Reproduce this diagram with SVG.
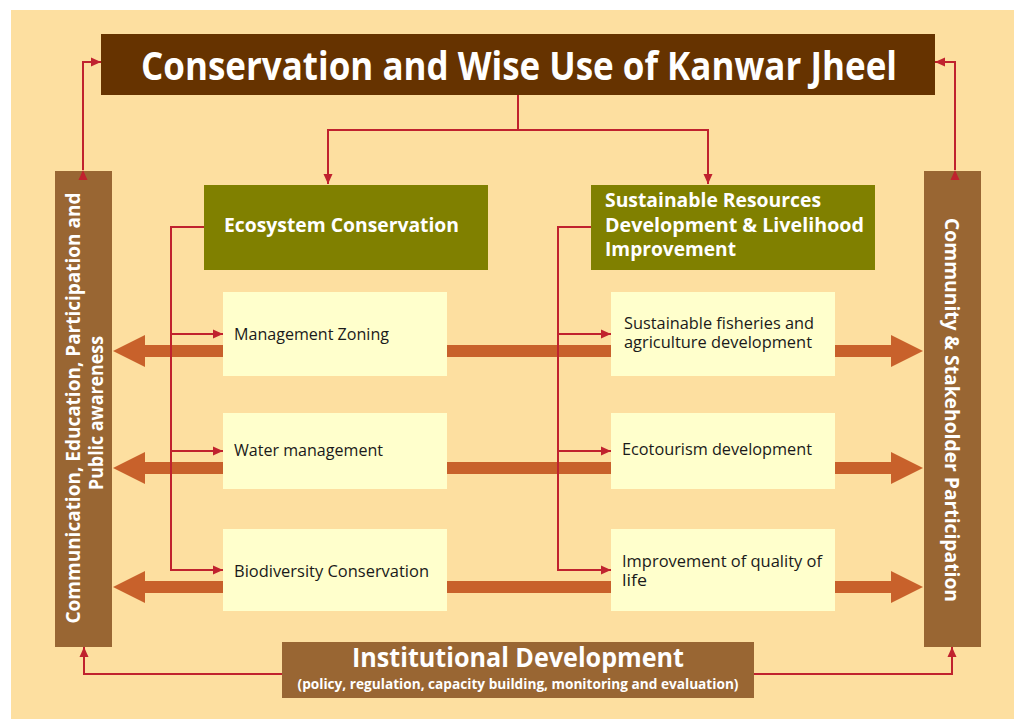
<svg xmlns="http://www.w3.org/2000/svg" width="1014" height="719" viewBox="0 0 1014 719">
  <defs>
    <style>
      .bold { font-family: "Open Sans", "Noto Sans", "DejaVu Sans", sans-serif; font-weight: 700; fill: #ffffff; }
      .item { font-family: "Open Sans", "Noto Sans", "DejaVu Sans", sans-serif; font-weight: 400; fill: #1a1a1a; font-size: 16.5px; }
      .goal { fill: #663300; }
      .pillar { fill: #808000; }
      .side { fill: #996633; }
      .action { fill: #ffffcc; }
      .link { fill: none; stroke: #c0222e; stroke-width: 2; }
      .flow { fill: #c8612b; }
    </style>
    <marker id="tip" viewBox="0 0 10 10" refX="10" refY="5" markerWidth="10" markerHeight="10" markerUnits="userSpaceOnUse" orient="auto">
      <path d="M0,0.5 L10,5 L0,9.5 Z" fill="#c0222e"/>
    </marker>
  </defs>

  <!-- page background -->
  <rect x="0" y="0" width="1014" height="719" fill="#ffffff"/>
  <rect x="11" y="10" width="1003" height="709" fill="#fddfa0"/>

  <!-- broad two-way flows between the action rows and the side pillars -->
  <g id="flows">
    <g id="flow-row1">
      <rect class="flow" x="144" y="345" width="748" height="12"/>
      <polygon class="flow" points="113,351 145,335 145,367"/>
      <polygon class="flow" points="923,351 891,335 891,367"/>
    </g>
    <g id="flow-row2">
      <rect class="flow" x="144" y="462" width="748" height="12"/>
      <polygon class="flow" points="113,468 145,452 145,484"/>
      <polygon class="flow" points="923,468 891,452 891,484"/>
    </g>
    <g id="flow-row3">
      <rect class="flow" x="144" y="581" width="748" height="12"/>
      <polygon class="flow" points="113,587 145,571 145,603"/>
      <polygon class="flow" points="923,587 891,571 891,603"/>
    </g>
  </g>

  <!-- goal -->
  <g id="goal">
    <rect class="goal" x="101" y="34" width="834" height="61"/>
    <text class="bold" x="141" y="80" font-size="39" textLength="756" lengthAdjust="spacingAndGlyphs">Conservation and Wise Use of Kanwar Jheel</text>
  </g>

  <!-- pillars -->
  <g id="ecosystem">
    <rect class="pillar" x="204" y="185" width="284" height="85"/>
    <text class="bold" x="224" y="232" font-size="19.5" textLength="235" lengthAdjust="spacingAndGlyphs">Ecosystem Conservation</text>
  </g>
  <g id="livelihood">
    <rect class="pillar" x="591" y="185" width="284" height="85"/>
    <text class="bold" font-size="19.5">
      <tspan x="605" y="207" textLength="216" lengthAdjust="spacingAndGlyphs">Sustainable Resources</tspan>
      <tspan x="605" y="232" textLength="259" lengthAdjust="spacingAndGlyphs">Development &amp; Livelihood</tspan>
      <tspan x="605" y="256" textLength="131" lengthAdjust="spacingAndGlyphs">Improvement</tspan>
    </text>
  </g>

  <!-- side pillars -->
  <g id="communication">
    <rect class="side" x="55" y="171" width="57" height="476"/>
    <g transform="translate(0,408) rotate(-90)">
      <text class="bold" x="0" y="80" font-size="20" text-anchor="middle" textLength="431" lengthAdjust="spacingAndGlyphs">Communication, Education, Participation and</text>
      <text class="bold" x="-5" y="103" font-size="20" text-anchor="middle" textLength="154" lengthAdjust="spacingAndGlyphs">Public awareness</text>
    </g>
  </g>
  <g id="community">
    <rect class="side" x="924" y="171" width="57" height="476"/>
    <g transform="translate(945,410) rotate(90)">
      <text class="bold" x="0" y="0" font-size="20" text-anchor="middle" textLength="384" lengthAdjust="spacingAndGlyphs">Community &amp; Stakeholder Participation</text>
    </g>
  </g>

  <!-- ecosystem actions -->
  <g id="zoning">
    <rect class="action" x="223" y="292" width="224" height="84"/>
    <text class="item" x="234" y="340" textLength="155" lengthAdjust="spacingAndGlyphs">Management Zoning</text>
  </g>
  <g id="water">
    <rect class="action" x="223" y="413" width="224" height="76"/>
    <text class="item" x="234" y="456" textLength="149" lengthAdjust="spacingAndGlyphs">Water management</text>
  </g>
  <g id="biodiversity">
    <rect class="action" x="223" y="529" width="224" height="82"/>
    <text class="item" x="234" y="577" textLength="195" lengthAdjust="spacingAndGlyphs">Biodiversity Conservation</text>
  </g>

  <!-- livelihood actions -->
  <g id="fisheries">
    <rect class="action" x="611" y="292" width="224" height="84"/>
    <text class="item">
      <tspan x="624" y="329" textLength="190" lengthAdjust="spacingAndGlyphs">Sustainable fisheries and</tspan>
      <tspan x="624" y="348" textLength="188" lengthAdjust="spacingAndGlyphs">agriculture development</tspan>
    </text>
  </g>
  <g id="ecotourism">
    <rect class="action" x="611" y="413" width="224" height="76"/>
    <text class="item" x="622" y="455" textLength="190" lengthAdjust="spacingAndGlyphs">Ecotourism development</text>
  </g>
  <g id="quality">
    <rect class="action" x="611" y="529" width="224" height="82"/>
    <text class="item">
      <tspan x="622" y="567" textLength="200" lengthAdjust="spacingAndGlyphs">Improvement of quality of</tspan>
      <tspan x="622" y="586" textLength="25" lengthAdjust="spacingAndGlyphs">life</tspan>
    </text>
  </g>

  <!-- enabling base -->
  <g id="institutional">
    <rect class="side" x="282" y="642" width="472" height="56"/>
    <text class="bold" x="518" y="667" font-size="26" text-anchor="middle" textLength="332" lengthAdjust="spacingAndGlyphs">Institutional Development</text>
    <text class="bold" x="518" y="689" font-size="14" text-anchor="middle" textLength="441" lengthAdjust="spacingAndGlyphs">(policy, regulation, capacity building, monitoring and evaluation)</text>
  </g>

  <!-- connectors -->
  <g id="connectors">
    <!-- goal to pillars -->
    <path class="link" d="M518,95 V130"/>
    <path class="link" d="M518,130 H328 V184" marker-end="url(#tip)"/>
    <path class="link" d="M518,130 H708 V184" marker-end="url(#tip)"/>
    <!-- goal to side pillars, two-way -->
    <path class="link" d="M83,170 V62 H101" marker-start="url(#tip)" marker-end="url(#tip)"/>
    <path class="link" d="M955,170 V62 H935" marker-start="url(#tip)" marker-end="url(#tip)"/>
    <!-- ecosystem branches -->
    <path class="link" d="M204,227 H171 V570"/>
    <path class="link" d="M171,334 H223" marker-end="url(#tip)"/>
    <path class="link" d="M171,451 H223" marker-end="url(#tip)"/>
    <path class="link" d="M170,570 H223" marker-end="url(#tip)"/>
    <!-- livelihood branches -->
    <path class="link" d="M591,227 H558 V570"/>
    <path class="link" d="M558,334 H611" marker-end="url(#tip)"/>
    <path class="link" d="M558,451 H611" marker-end="url(#tip)"/>
    <path class="link" d="M557,570 H611" marker-end="url(#tip)"/>
    <!-- institutional base to side pillars -->
    <path class="link" d="M282,674 H84 V647" marker-end="url(#tip)"/>
    <path class="link" d="M754,674 H952 V647" marker-end="url(#tip)"/>
  </g>
</svg>
